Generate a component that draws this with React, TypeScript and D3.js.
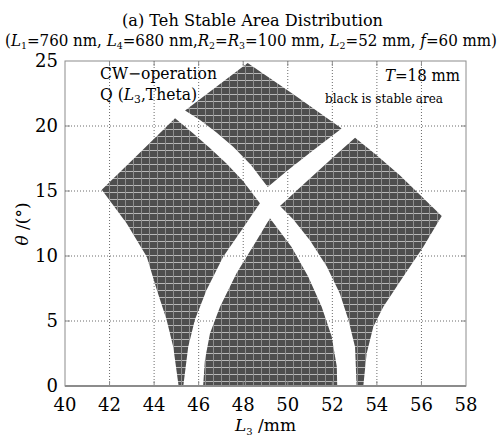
import React from 'react'
import * as d3 from 'd3'

const xTicks = [40, 42, 44, 46, 48, 50, 52, 54, 56, 58]
const yTicks = [0, 5, 10, 15, 20, 25]

// outlines of the stable areas: [L3 (mm), theta (deg)]
const leftArea: [number, number][] = [
  [45.1, 0], [44.86, 3.0], [44.56, 5.1], [44.12, 7.4], [43.67, 9.95], [42.77, 12.5],
  [41.65, 15.1], [43.3, 17.85], [44.94, 20.6], [45.76, 19.43], [46.5, 18.3], [47.26, 17.1],
  [48.0, 15.75], [48.75, 14.05], [47.93, 12.0], [47.1, 9.95], [46.36, 7.4], [45.83, 5.1],
  [45.53, 3.0], [45.31, 0],
]
const topArea: [number, number][] = [
  [45.39, 21.2], [48.2, 24.85], [50.25, 22.45], [52.42, 19.8], [51.8, 19.0], [51.0, 17.95],
  [50.0, 16.6], [49.1, 15.3], [48.35, 17.0], [47.55, 18.4], [46.8, 19.5], [46.06, 20.46],
]
const rightArea: [number, number][] = [
  [53.02, 19.1], [53.99, 17.75], [55.04, 16.2], [56.91, 13.08], [56.08, 10.7], [55.18, 8.4],
  [54.29, 6.1], [53.84, 4.56], [53.54, 2.5], [53.39, 0], [53.09, 0], [53.02, 3.0],
  [52.72, 5.1], [52.34, 7.1], [51.75, 9.2], [51.0, 11.2], [50.25, 12.8], [49.65, 13.85],
  [50.5, 15.2], [51.4, 16.6], [52.3, 18.0],
]
const middleArea: [number, number][] = [
  [46.2, 0], [46.28, 2.0], [46.51, 4.05], [46.96, 6.1], [47.7, 8.67], [48.6, 11.2],
  [49.2, 12.9], [50.17, 10.7], [50.92, 8.4], [51.52, 6.1], [51.97, 3.8], [52.2, 1.5],
  [52.22, 0],
]
const areas = [leftArea, topArea, rightArea, middleArea]

const font = "'DejaVu Serif', serif"

export default function App() {
  const x = d3.scaleLinear().domain([40, 58]).range([65, 466])
  const y = d3.scaleLinear().domain([0, 25]).range([386, 61])
  const line = d3.line<[number, number]>().x(d => x(d[0])).y(d => y(d[1]))

  const frame = '#8c8c8c'

  return (
    <svg width={500} height={438} style={{ position: 'absolute', left: 0, top: 0 }} fontFamily={font}>
      <defs>
        <pattern id="dots" patternUnits="userSpaceOnUse" width={8} height={7}>
          <rect width={8} height={7} fill="#4e4e4e" />
          <rect x={0} y={3} width={8} height={1} fill="#b8b8b8" />
          <rect x={5} y={0} width={1} height={7} fill="#8e8e8e" />
        </pattern>
      </defs>
      <rect width={500} height={438} fill="#fff" />

      {/* title */}
      <text x={122} y={26} fontSize={16} textLength={261} lengthAdjust="spacingAndGlyphs">(a) Teh Stable Area Distribution</text>
      <text x={5} y={46} fontSize={16} textLength={492} lengthAdjust="spacingAndGlyphs">
        (<tspan fontStyle="italic">L</tspan><tspan fontSize={10} dy={3}>1</tspan><tspan dy={-3}>=760 nm, </tspan>
        <tspan fontStyle="italic">L</tspan><tspan fontSize={10} dy={3}>4</tspan><tspan dy={-3}>=680 nm,</tspan>
        <tspan fontStyle="italic">R</tspan><tspan fontSize={10} dy={3}>2</tspan><tspan dy={-3}>=</tspan>
        <tspan fontStyle="italic">R</tspan><tspan fontSize={10} dy={3}>3</tspan><tspan dy={-3}>=100 mm, </tspan>
        <tspan fontStyle="italic">L</tspan><tspan fontSize={10} dy={3}>2</tspan><tspan dy={-3}>=52 mm, </tspan>
        <tspan fontStyle="italic">f</tspan><tspan>=60 mm)</tspan>
      </text>

      {/* grid */}
      {xTicks.slice(1, -1).map(t => (
        <line key={'gx' + t} x1={x(t)} x2={x(t)} y1={y(0)} y2={y(25)} stroke="#6a6a6a" strokeWidth={1} strokeDasharray="1,2" />
      ))}
      {yTicks.slice(1, -1).map(t => (
        <line key={'gy' + t} x1={x(40)} x2={x(58)} y1={y(t)} y2={y(t)} stroke="#6a6a6a" strokeWidth={1} strokeDasharray="1,2" />
      ))}

      {/* stable areas */}
      {areas.map((a, i) => (
        <path key={i} d={line(a) + 'Z'} fill="url(#dots)" />
      ))}

      {/* frame and ticks */}
      <rect x={x(40)} y={y(25)} width={x(58) - x(40)} height={y(0) - y(25)} fill="none" stroke={frame} strokeWidth={1} />
      <line x1={x(40)} x2={x(58)} y1={y(0)} y2={y(0)} stroke={frame} strokeWidth={2} />
      {xTicks.slice(1, -1).map(t => (
        <g key={'tx' + t} stroke={frame}>
          <line x1={x(t)} x2={x(t)} y1={y(0)} y2={y(0) - 5} />
          <line x1={x(t)} x2={x(t)} y1={y(25)} y2={y(25) + 5} />
        </g>
      ))}
      {yTicks.slice(1, -1).map(t => (
        <g key={'ty' + t} stroke={frame}>
          <line x1={x(40)} x2={x(40) + 5} y1={y(t)} y2={y(t)} />
          <line x1={x(58)} x2={x(58) - 5} y1={y(t)} y2={y(t)} />
        </g>
      ))}

      {/* tick labels */}
      {xTicks.map(t => (
        <text key={'lx' + t} x={x(t)} y={411} fontSize={18} textAnchor="middle">{t}</text>
      ))}
      {yTicks.map(t => (
        <text key={'ly' + t} x={58} y={y(t)} dy="0.36em" fontSize={18} textAnchor="end">{t}</text>
      ))}

      {/* axis titles */}
      <text x={235} y={431} fontSize={17}>
        <tspan fontStyle="italic">L</tspan><tspan fontSize={10} dy={4}>3</tspan><tspan dy={-4}> /mm</tspan>
      </text>
      <text transform="translate(28,224) rotate(-90)" fontSize={17} textAnchor="middle">
        <tspan fontStyle="italic">θ</tspan> /(°)
      </text>

      {/* annotations */}
      <text x={100} y={79} fontSize={16} textLength={117} lengthAdjust="spacingAndGlyphs">CW−operation</text>
      <text x={100} y={100} fontSize={16} textLength={97} lengthAdjust="spacingAndGlyphs">
        Q (<tspan fontStyle="italic">L</tspan><tspan fontSize={11} dy={3}>3</tspan><tspan dy={-3}>,Theta)</tspan>
      </text>
      <text x={385} y={81} fontSize={16} textLength={75} lengthAdjust="spacingAndGlyphs">
        <tspan fontStyle="italic">T</tspan>=18 mm
      </text>
      <text x={325} y={103} fontSize={12.5} textLength={118} lengthAdjust="spacingAndGlyphs">black is stable area</text>
    </svg>
  )
}
